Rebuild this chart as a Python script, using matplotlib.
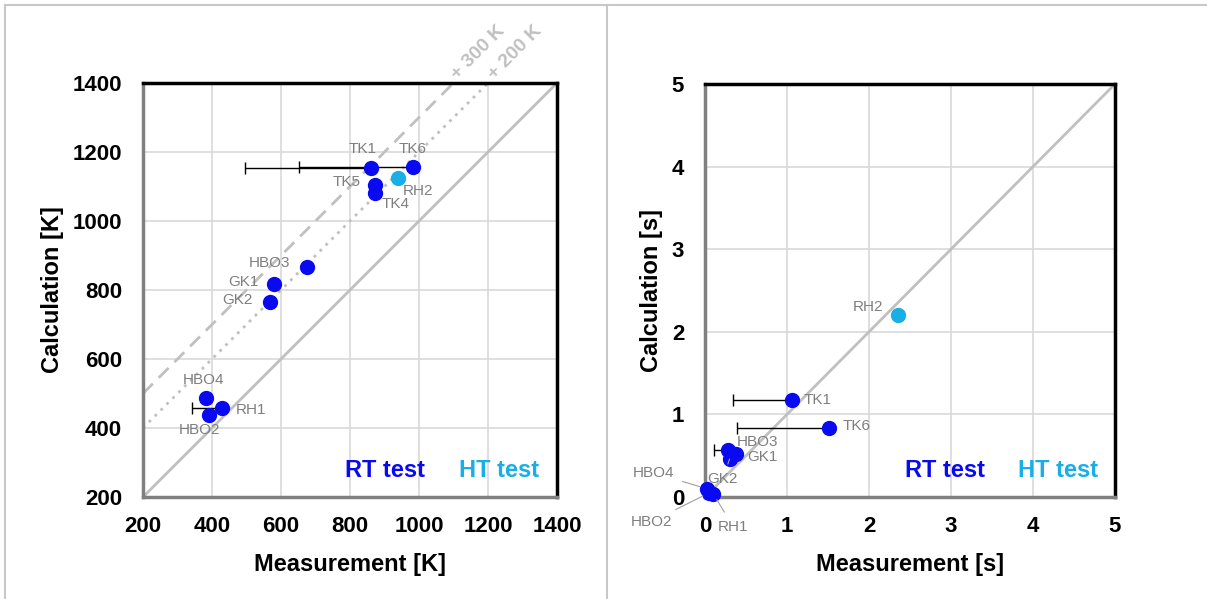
import matplotlib
matplotlib.use("Agg")
import matplotlib.pyplot as plt
from matplotlib.lines import Line2D
import numpy as np

plt.rcParams['font.family'] = ['Liberation Sans', 'DejaVu Sans']

# temperature panel (left)
temp_names = ["TK1", "TK6", "TK5", "TK4", "RH2", "HBO3", "GK1", "GK2", "HBO4", "RH1", "HBO2"]
temp_meas = [860, 983, 872, 872, 940, 675, 580, 568, 383, 429, 391]
temp_calc = [1155, 1157, 1105, 1082, 1125, 867, 817, 765, 487, 458, 438]
temp_err_lo = [365, 331, 0, 0, 0, 0, 0, 0, 0, 87, 0]
temp_is_ht = [False, False, False, False, True, False, False, False, False, False, False]

# time panel (right)
time_names = ["TK1", "TK6", "RH2", "HBO3", "GK1", "GK2", "HBO4", "HBO2", "RH1"]
time_meas = [1.06, 1.51, 2.35, 0.28, 0.38, 0.30, 0.02, 0.05, 0.10]
time_calc = [1.17, 0.84, 2.20, 0.57, 0.52, 0.46, 0.10, 0.05, 0.04]
time_err_lo = [0.72, 1.12, 0, 0.17, 0, 0, 0, 0, 0]
time_is_ht = [False, False, True, False, False, False, False, False, False]

temp_ticks = [200, 400, 600, 800, 1000, 1200, 1400]
time_ticks = [0, 1, 2, 3, 4, 5]

# label offsets (pixels from the dot), and which labels get a leader line
temp_lbl_off = {"TK1": (-8, 19), "TK6": (-1, 18), "TK5": (-28, 3), "TK4": (21, -11),
                "RH2": (20, -13), "HBO3": (-37, 4), "GK1": (-31, 2), "GK2": (-33, 2),
                "HBO4": (-3, 18), "RH1": (29, -2), "HBO2": (-9, -15)}
time_lbl_off = {"TK1": (26, 0), "TK6": (28, 2), "RH2": (-30, 8), "HBO3": (30, 8),
                "GK1": (26, -3), "GK2": (-7, -20), "HBO4": (-53, 16), "HBO2": (-58, -29),
                "RH1": (20, -33)}
time_leaders = ["HBO4", "HBO2", "RH1", "GK2"]

RT_COL = "#0a0af0"
HT_COL = "#1aaee6"
LBL_COL = "#7f7f7f"
REF_COL = "#c0c0c0"

W, H = 1207, 599
fig = plt.figure(figsize=(W / 100, H / 100), dpi=100)


def px_axes(x0, y0, x1, y1):
    return fig.add_axes([x0 / W, 1 - y1 / H, (x1 - x0) / W, (y1 - y0) / H])


def style(ax, ticks, xlabel, ylabel):
    ax.set_xlim(ticks[0], ticks[-1])
    ax.set_ylim(ticks[0], ticks[-1])
    ax.set_xticks(ticks)
    ax.set_yticks(ticks)
    ax.grid(True, color="#d9d9d9", linewidth=1.2)
    ax.set_axisbelow(True)
    ax.tick_params(axis="x", length=0, pad=14, labelsize=16)
    ax.tick_params(axis="y", length=0, pad=15, labelsize=16)
    for lab in ax.get_xticklabels() + ax.get_yticklabels():
        lab.set_fontweight("bold")
    for s in ["left", "bottom"]:
        ax.spines[s].set_color("#808080")
        ax.spines[s].set_linewidth(2.5)
    for s in ["top", "right"]:
        ax.spines[s].set_color("black")
        ax.spines[s].set_linewidth(2.5)
    ax.set_xlabel(xlabel, fontsize=17, fontweight="bold", labelpad=11)
    ax.set_ylabel(ylabel, fontsize=17, fontweight="bold", labelpad=6)
    ax.text(0.585, 0.065, "RT test", transform=ax.transAxes, color=RT_COL,
            fontsize=17, fontweight="bold", ha="center", va="center")
    ax.text(0.86, 0.065, "HT test", transform=ax.transAxes, color=HT_COL,
            fontsize=17, fontweight="bold", ha="center", va="center")


def points(ax, names, meas, calc, err, is_ht, offs, leaders):
    for n, x, y, e, ht in zip(names, meas, calc, err, is_ht):
        if e > 0:
            ax.errorbar([x], [y], xerr=[[e], [0]], fmt="none", ecolor="black",
                        elinewidth=1, capsize=4, capthick=1, zorder=3)
        ax.plot(x, y, "o", color=HT_COL if ht else RT_COL, markersize=10,
                zorder=4, clip_on=False)
        dx, dy = offs[n]
        arrow = None
        if n in leaders:
            arrow = dict(arrowstyle="-", color="#a0a0a0", lw=0.8, shrinkA=4, shrinkB=5)
        ax.annotate(n, (x, y), xytext=(dx, dy), textcoords="offset pixels",
                    fontsize=11, color=LBL_COL, ha="center", va="center",
                    arrowprops=arrow, annotation_clip=False, zorder=5)


# left: temperature
ax1 = px_axes(143, 83, 557, 497)
style(ax1, temp_ticks, "Measurement [K]", "Calculation [K]")
ref = np.array([temp_ticks[0], temp_ticks[-1]])
ax1.plot(ref, ref, color=REF_COL, lw=2, zorder=2)
ax1.plot(ref, ref + 300, color=REF_COL, lw=2, ls=(0, (5, 3)), zorder=2)
ax1.plot(ref, ref + 200, color=REF_COL, lw=2, ls=(0, (1, 2)), zorder=2)
ax1.text(1102, 1418, "+ 300 K", rotation=45, rotation_mode="anchor", color=REF_COL,
         fontsize=14, fontweight="bold", ha="left", va="center", clip_on=False)
ax1.text(1208, 1418, "+ 200 K", rotation=45, rotation_mode="anchor", color=REF_COL,
         fontsize=14, fontweight="bold", ha="left", va="center", clip_on=False)
points(ax1, temp_names, temp_meas, temp_calc, temp_err_lo, temp_is_ht, temp_lbl_off, [])

# right: time
ax2 = px_axes(705, 84, 1115, 497)
style(ax2, time_ticks, "Measurement [s]", "Calculation [s]")
ref = np.array([time_ticks[0], time_ticks[-1]])
ax2.plot(ref, ref, color=REF_COL, lw=2, zorder=2)
points(ax2, time_names, time_meas, time_calc, time_err_lo, time_is_ht, time_lbl_off, time_leaders)

# frame lines of the original slide
for xs, ys in [([5, 5], [5, H]), ([5, W], [5, 5]), ([607, 607], [5, H])]:
    fig.add_artist(Line2D([x / W for x in xs], [1 - y / H for y in ys],
                          color="#c8c8c8", lw=1.5))

fig.savefig("out.png", dpi=100)
